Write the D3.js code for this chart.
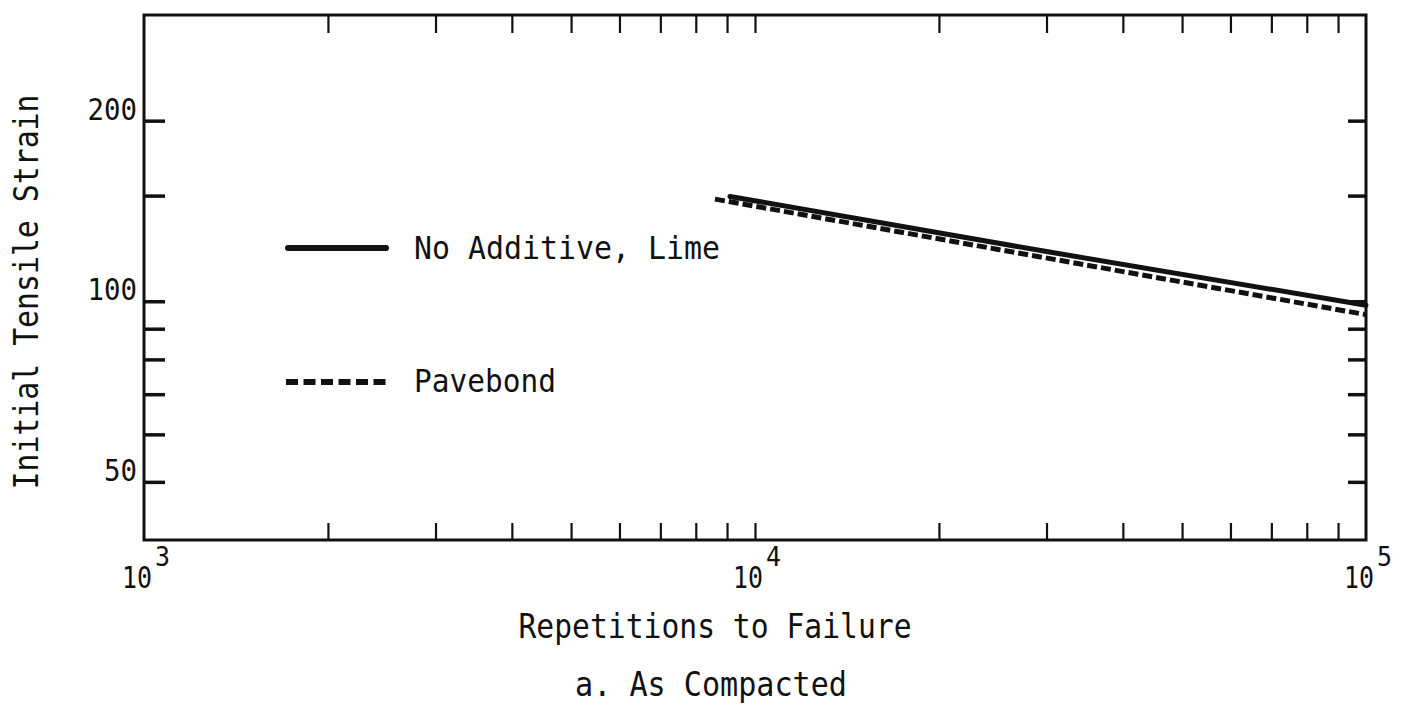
<!DOCTYPE html>
<html>
<head>
<meta charset="utf-8">
<script src="https://cdn.jsdelivr.net/npm/d3@7"></script>
<style>
  html, body { margin: 0; padding: 0; background: #fff; }
  svg { display: block; }
  text { font-family: "DejaVu Sans Mono", "Liberation Mono", monospace; fill: #111; }
</style>
</head>
<body>
<svg id="chart" width="1409" height="707"></svg>
<script>
// ---- Data ----
const seriesNames = ["No Additive, Lime", "Pavebond"];
const solidX = [9100, 30000, 100000];
const solidY = [149.5, 121, 98.5];
const dashX = [8600, 25000, 100000];
const dashY = [148, 122, 95];

// ---- Ticks ----
const xMajorTicks = [1e3, 1e4, 1e5];
const xMajorExp = ["3", "4", "5"];
const xMinorTicks = [2e3, 3e3, 4e3, 5e3, 6e3, 7e3, 8e3, 9e3, 1e4, 2e4, 3e4, 4e4, 5e4, 6e4, 7e4, 8e4, 9e4];
const yTicks = [50, 60, 70, 80, 90, 100, 150, 200];
const yLabelTicks = [50, 100, 200];

const xTitle = "Repetitions to Failure";
const yTitle = "Initial Tensile Strain";
const caption = "a. As Compacted";

// ---- Layout ----
const L = 144, R = 1366, T = 15, B = 540;
const svg = d3.select("#chart");

const x = d3.scaleLog().domain([1e3, 1e5]).range([L, R]);
const y = d3.scaleLog().domain([40, 300]).range([B, T]);

// ticks
const bottomAxis = d3.axisBottom(x).tickValues(xMinorTicks).tickFormat("").tickSizeInner(-17).tickSizeOuter(0);
const topAxis = d3.axisTop(x).tickValues(xMinorTicks).tickFormat("").tickSizeInner(-18).tickSizeOuter(0);
const leftAxis = d3.axisLeft(y).tickValues(yTicks).tickFormat("").tickSizeInner(-21).tickSizeOuter(0);
const rightAxis = d3.axisRight(y).tickValues(yTicks).tickFormat("").tickSizeInner(-18).tickSizeOuter(0);

function styleAxis(g, w) {
  g.select(".domain").remove();
  g.selectAll(".tick line").attr("stroke", "#111").attr("stroke-width", w);
}
svg.append("g").attr("transform", `translate(0,${B})`).call(bottomAxis).call(g => styleAxis(g, 2.2));
svg.append("g").attr("transform", `translate(0,${T})`).call(topAxis).call(g => styleAxis(g, 2.2));
svg.append("g").attr("transform", `translate(${L},0)`).call(leftAxis).call(g => styleAxis(g, 3.5));
svg.append("g").attr("transform", `translate(${R},0)`).call(rightAxis).call(g => styleAxis(g, 3.5));

// frame
svg.append("rect")
  .attr("x", L).attr("y", T).attr("width", R - L).attr("height", B - T)
  .attr("fill", "none").attr("stroke", "#111").attr("stroke-width", 3);

// y tick labels
svg.append("g").selectAll("text").data(yLabelTicks).join("text")
  .attr("x", L - 7)
  .attr("y", d => y(d) - 1)
  .attr("text-anchor", "end")
  .attr("font-size", 30)
  .attr("textLength", d => String(d).length * 16.5)
  .attr("lengthAdjust", "spacingAndGlyphs")
  .text(d => d);

// x tick labels (10^n): base and superscript, placed side by side
const xl = svg.append("g").selectAll("g").data(xMajorTicks).join("g")
  .attr("transform", d => `translate(${x(d)},0)`);
xl.append("text")
  .attr("x", -22).attr("y", 588)
  .attr("font-size", 30)
  .attr("textLength", 30)
  .attr("lengthAdjust", "spacingAndGlyphs")
  .text("10");
xl.append("text")
  .attr("x", 11).attr("y", 566)
  .attr("font-size", 26)
  .attr("textLength", 15)
  .attr("lengthAdjust", "spacingAndGlyphs")
  .text((d, i) => xMajorExp[i]);

// data lines
const line = d3.line().x(d => x(d[0])).y(d => y(d[1]));
const solidData = solidX.map((v, i) => [v, solidY[i]]);
const dashData = dashX.map((v, i) => [v, dashY[i]]);

svg.append("path").datum(dashData)
  .attr("d", line)
  .attr("fill", "none").attr("stroke", "#111").attr("stroke-width", 5)
  .attr("stroke-dasharray", "10,4");
svg.append("path").datum(solidData)
  .attr("d", line)
  .attr("fill", "none").attr("stroke", "#111").attr("stroke-width", 5)
  .attr("stroke-linecap", "round");

// legend
const legend = svg.append("g");
legend.append("line").attr("x1", 288).attr("x2", 386).attr("y1", 248).attr("y2", 248)
  .attr("stroke", "#111").attr("stroke-width", 6).attr("stroke-linecap", "round");
legend.append("text").attr("x", 414).attr("y", 259)
  .attr("font-size", 32).attr("textLength", 306).attr("lengthAdjust", "spacingAndGlyphs")
  .text(seriesNames[0]);
legend.append("line").attr("x1", 286).attr("x2", 388).attr("y1", 382).attr("y2", 382)
  .attr("stroke", "#111").attr("stroke-width", 6).attr("stroke-dasharray", "12,5.5");
legend.append("text").attr("x", 414).attr("y", 392)
  .attr("font-size", 32).attr("textLength", 142).attr("lengthAdjust", "spacingAndGlyphs")
  .text(seriesNames[1]);

// axis titles
svg.append("text")
  .attr("x", 715).attr("y", 638)
  .attr("text-anchor", "middle")
  .attr("font-size", 34).attr("textLength", 393).attr("lengthAdjust", "spacingAndGlyphs")
  .text(xTitle);
svg.append("text")
  .attr("transform", "translate(38,292) rotate(-90)")
  .attr("text-anchor", "middle")
  .attr("font-size", 34).attr("textLength", 395).attr("lengthAdjust", "spacingAndGlyphs")
  .text(yTitle);
svg.append("text")
  .attr("x", 711).attr("y", 696)
  .attr("text-anchor", "middle")
  .attr("font-size", 34).attr("textLength", 272).attr("lengthAdjust", "spacingAndGlyphs")
  .text(caption);
</script>
</body>
</html>
